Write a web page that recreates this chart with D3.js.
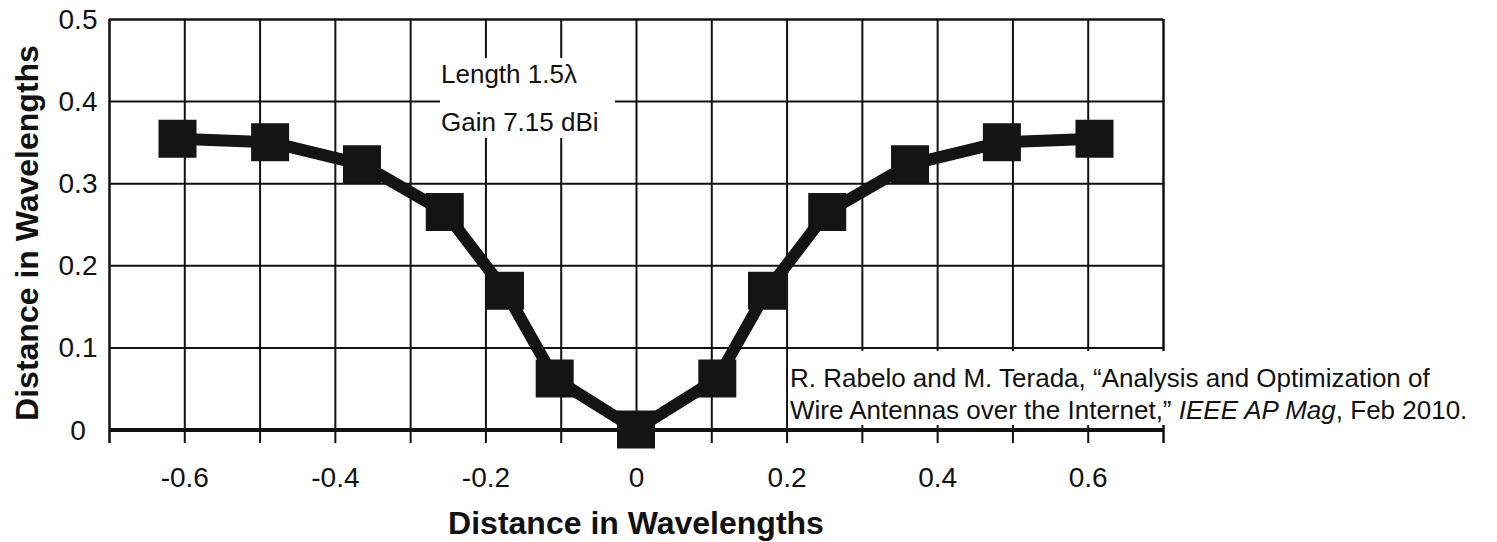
<!DOCTYPE html>
<html>
<head>
<meta charset="utf-8">
<script src="https://cdn.jsdelivr.net/npm/d3@7"></script>
<style>
  body { margin: 0; background: #fff; }
  text { font-family: "Liberation Sans", Arial, sans-serif; fill: #111; }
</style>
</head>
<body>
<script>
// wire shape (distance along / height, in wavelengths)
var wireX = [-0.609, -0.486, -0.364, -0.254, -0.174, -0.108, 0, 0.108, 0.174, 0.254, 0.364, 0.486, 0.609];
var wireY = [0.354, 0.350, 0.323, 0.265, 0.169, 0.062, 0, 0.062, 0.169, 0.265, 0.323, 0.350, 0.354];

var xGridTicks = [-0.7, -0.6, -0.5, -0.4, -0.3, -0.2, -0.1, 0, 0.1, 0.2, 0.3, 0.4, 0.5, 0.6, 0.7];
var xTickLabels = [-0.6, -0.4, -0.2, 0, 0.2, 0.4, 0.6];
var yTickLabels = [0, 0.1, 0.2, 0.3, 0.4, 0.5];

var noteLines = ['Length 1.5\u03bb', 'Gain 7.15 dBi'];
var axisTitle = 'Distance in Wavelengths';

var width = 1497, height = 542;

var x = d3.scaleLinear().domain([-0.7, 0.7]).range([109, 1163]);
var y = d3.scaleLinear().domain([0, 0.5]).range([429.5, 19]);
var tickBottom = 443;

var svg = d3.select('body').append('svg')
  .attr('width', width)
  .attr('height', height);

// vertical grid lines, running down past the zero line as ticks
svg.append('g')
  .attr('transform', 'translate(0,' + tickBottom + ')')
  .call(d3.axisBottom(x).tickValues(xGridTicks).tickSize(-(tickBottom - y(0.5))).tickFormat(''))
  .call(function(g) {
    g.select('.domain').remove();
    g.selectAll('line')
      .attr('stroke', '#111')
      .attr('stroke-width', function(d) { return Math.abs(d) > 0.65 ? 2.5 : 2; });
  });

// horizontal grid lines
svg.append('g')
  .attr('transform', 'translate(' + x(-0.7) + ',0)')
  .call(d3.axisLeft(y).tickValues([0.1, 0.2, 0.3, 0.4, 0.5]).tickSize(-(x(0.7) - x(-0.7))).tickFormat(''))
  .call(function(g) {
    g.select('.domain').remove();
    g.selectAll('line')
      .attr('stroke', '#111')
      .attr('stroke-width', function(d) { return d > 0.45 ? 2.5 : 2; });
  });

// thick zero line with the x labels
svg.append('g')
  .attr('transform', 'translate(0,' + y(0) + ')')
  .call(d3.axisBottom(x).tickValues(xTickLabels).tickSize(0).tickFormat(function(d) { return String(d); }))
  .call(function(g) {
    g.select('.domain').attr('stroke', '#111').attr('stroke-width', 4);
    g.selectAll('text')
      .attr('y', 487 - y(0))
      .attr('dy', null)
      .attr('fill', '#111')
      .style('font-size', '28px');
  });

// y labels, centred in the left margin
svg.append('g')
  .selectAll('text')
  .data(yTickLabels)
  .enter().append('text')
  .attr('x', 78)
  .attr('y', function(d) { return y(d); })
  .attr('dy', '0.36em')
  .attr('text-anchor', 'middle')
  .style('font-size', '28px')
  .text(function(d) { return String(d); });

// note box
svg.append('rect')
  .attr('x', 440).attr('y', 58)
  .attr('width', 175).attr('height', 80)
  .attr('fill', '#fff');

svg.selectAll('.note')
  .data(noteLines)
  .enter().append('text')
  .attr('class', 'note')
  .attr('x', 441)
  .attr('y', function(d, i) { return 83 + i * 48; })
  .style('font-size', '26px')
  .text(function(d) { return d; });

// reference box
svg.append('rect')
  .attr('x', 788).attr('y', 351)
  .attr('width', width - 788).attr('height', 74)
  .attr('fill', '#fff');

var cite = svg.append('g').style('font-size', '26px');
cite.append('text')
  .attr('x', 790).attr('y', 387)
  .text('R. Rabelo and M. Terada, \u201cAnalysis and Optimization of');
var cite2 = cite.append('text')
  .attr('x', 790).attr('y', 419);
cite2.append('tspan').text('Wire Antennas over the Internet,\u201d ');
cite2.append('tspan').style('font-style', 'italic').text('IEEE AP Mag');
cite2.append('tspan').text(', Feb 2010.');

// wire
var points = wireX.map(function(d, i) { return [d, wireY[i]]; });

svg.append('path')
  .datum(points)
  .attr('fill', 'none')
  .attr('stroke', '#141414')
  .attr('stroke-width', 12)
  .attr('stroke-linejoin', 'round')
  .attr('d', d3.line()
    .x(function(d) { return x(d[0]); })
    .y(function(d) { return y(d[1]); }));

svg.selectAll('.seg')
  .data(points)
  .enter().append('path')
  .attr('class', 'seg')
  .attr('transform', function(d) { return 'translate(' + x(d[0]) + ',' + y(d[1]) + ')'; })
  .attr('d', d3.symbol().type(d3.symbolSquare).size(38 * 38))
  .attr('fill', '#141414');

// axis titles
svg.append('text')
  .attr('x', x(0))
  .attr('y', 534)
  .attr('text-anchor', 'middle')
  .style('font-size', '32px')
  .style('font-weight', 'bold')
  .text(axisTitle);

svg.append('text')
  .attr('transform', 'translate(38,233) rotate(-90)')
  .attr('text-anchor', 'middle')
  .style('font-size', '32px')
  .style('font-weight', 'bold')
  .text(axisTitle);
</script>
</body>
</html>
